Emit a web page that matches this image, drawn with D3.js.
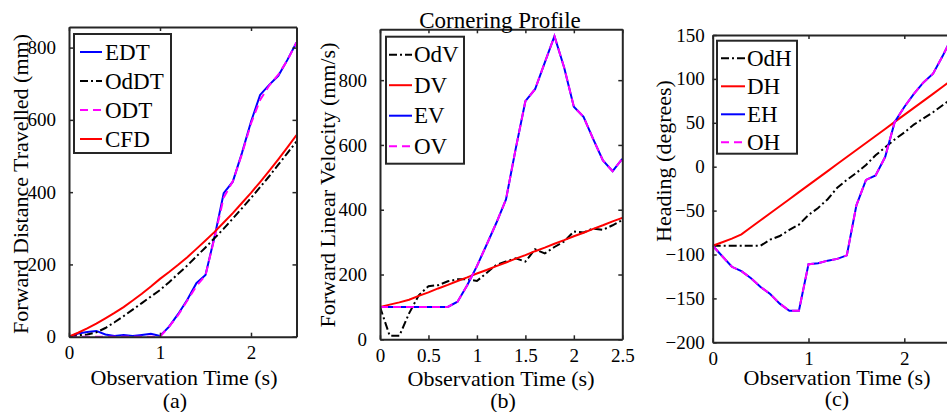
<!DOCTYPE html>
<html>
<head>
<meta charset="utf-8">
<script src="https://cdnjs.cloudflare.com/ajax/libs/d3/7.8.5/d3.min.js"></script>
<style>
  body { margin: 0; background: #fff; }
  svg { display: block; font-family: "Liberation Serif", "Times New Roman", serif; }
</style>
</head>
<body>
<div id="chart"></div>
<script>
// observation time (s), shared by every series
var time = [0, 0.1, 0.2, 0.3, 0.4, 0.5, 0.6, 0.7, 0.8, 0.9, 1.0, 1.1, 1.2,
            1.3, 1.4, 1.5, 1.6, 1.7, 1.8, 1.9, 2.0, 2.1, 2.2, 2.3, 2.4, 2.5];

// (a) forward distance travelled (mm)
var edt  = [0, 9, 13, 16, 6, 2, 5, 2, 5, 8, 2, 28, 63, 102, 148, 171, 277, 397, 429, 508, 595, 669, 697, 722, 766, 814];
var oddt = [0, 4, 6, 12, 24, 40, 57, 75, 93, 111, 129, 151, 174, 197, 222, 247, 273, 299, 327, 355, 384, 414, 444, 476, 508, 540];
var odt  = [0, 0, 0, 0, 0, 0, 0, 0, 0, 0, 0, 28, 60, 100, 140, 170, 275, 385, 430, 505, 590, 655, 695, 725, 765, 814];
var cfd  = [0, 11, 23, 36, 51, 66, 82, 100, 119, 139, 160, 179, 199, 220, 243, 266, 290, 316, 342, 370, 398, 428, 459, 491, 524, 558];

// (b) forward linear velocity (mm/s)
var odv = [100, 11, 11, 80, 136, 164, 167, 179, 185, 185, 180, 205, 230, 240, 250, 240, 278, 265, 285, 302, 333, 330, 342, 338, 352, 368];
var dv  = [100, 107, 114, 122, 134, 145, 157, 168, 180, 191, 203, 214, 226, 237, 249, 260, 272, 283, 295, 306, 318, 329, 341, 352, 364, 375];
var ev  = [100, 100, 100, 100, 100, 100, 100, 100, 116, 167, 226, 292, 359, 432, 588, 735, 772, 854, 936, 839, 718, 687, 618, 552, 519, 557];
var ov  = [100, 100, 100, 100, 100, 100, 100, 100, 116, 167, 226, 292, 359, 432, 588, 735, 772, 854, 936, 839, 718, 687, 618, 552, 519, 557];

// (c) heading (degrees)
var odh = [-90, -90, -90, -90, -90, -90, -83, -79, -72, -66, -55, -47, -37, -24, -15, -7, 2, 13, 22, 31, 39, 48, 55, 62, 70, 78];
var dh  = [-90, -86, -82, -77, -69, -61, -53, -45, -37, -29, -21, -13, -5, 3, 11, 19, 27, 35, 43, 51, 59, 67, 75, 83, 91, 99];
var eh  = [-90, -102, -114, -119, -127, -137, -145, -156, -164, -164, -111, -110, -107, -105, -101, -44, -15, -10, 11, 51, 68, 83, 96, 106, 126, 148];
var oh  = [-90, -102, -114, -119, -127, -137, -145, -156, -164, -164, -111, -110, -107, -105, -101, -44, -15, -10, 11, 51, 68, 83, 96, 106, 126, 148];

// tick labels
var xTicksA = [0, 1, 2];
var xTicksB = [0, 0.5, 1, 1.5, 2, 2.5];
var xTicksC = [0, 1, 2];
var yTicksA = [0, 200, 400, 600, 800];
var yTicksB = [0, 200, 400, 600, 800];
var yTicksC = [-200, -150, -100, -50, 0, 50, 100, 150];

var styles = {
    solidBlue:  {color: '#0000ff', dash: null},
    solidRed:   {color: '#ff0000', dash: null},
    dashDot:    {color: '#000000', dash: '8,3,2,3'},
    dashMag:    {color: '#ff00ff', dash: '8,5'}
};

var panels = [
    {
        box: {left: 69, right: 296.5, top: 27, bottom: 336.7},
        xDomain: [0, 2.5], yDomain: [0, 857],
        xTicks: xTicksA, yTicks: yTicksA,
        yLabel: 'Forward Distance Travelled (mm)', yLabelPos: [20, 184],
        xLabelPos: [184, 377], caption: '(a)', captionPos: [175, 400],
        series: [
            {name: 'EDT', values: edt, style: styles.solidBlue},
            {name: 'OdDT', values: oddt, style: styles.dashDot},
            {name: 'ODT', values: odt, style: styles.dashMag},
            {name: 'CFD', values: cfd, style: styles.solidRed}
        ],
        legend: {x: 74, y: 34, w: 97, h: 119, first: 18, step: 29, lineX: [80, 102], textX: 105}
    },
    {
        box: {left: 380, right: 622.3, top: 29.3, bottom: 339.3},
        xDomain: [0, 2.5], yDomain: [0, 957],
        xTicks: xTicksB, yTicks: yTicksB,
        yLabel: 'Forward Linear Velocity (mm/s)', yLabelPos: [327, 185],
        xLabelPos: [501, 378], caption: '(b)', captionPos: [503, 400],
        title: 'Cornering Profile', titlePos: [500, 20],
        series: [
            {name: 'OdV', values: odv, style: styles.dashDot},
            {name: 'DV', values: dv, style: styles.solidRed},
            {name: 'EV', values: ev, style: styles.solidBlue},
            {name: 'OV', values: ov, style: styles.dashMag}
        ],
        legend: {x: 386, y: 36.7, w: 78, h: 127, first: 18, step: 30.5, lineX: [389, 412], textX: 414}
    },
    {
        box: {left: 712.7, right: 952.2, top: 35, bottom: 342.3},
        xDomain: [0, 2.5], yDomain: [-200, 150],
        xTicks: xTicksC, yTicks: yTicksC,
        yLabel: 'Heading (degrees)', yLabelPos: [663, 161],
        xLabelPos: [837, 377], caption: '(c)', captionPos: [837, 398],
        series: [
            {name: 'OdH', values: odh, style: styles.dashDot},
            {name: 'DH', values: dh, style: styles.solidRed},
            {name: 'EH', values: eh, style: styles.solidBlue},
            {name: 'OH', values: oh, style: styles.dashMag}
        ],
        legend: {x: 717, y: 40.7, w: 80, h: 113, first: 17.6, step: 28, lineX: [721, 745], textX: 747}
    }
];

var axisColor = '#262626';
var tickLen = 4;

var svg = d3.select('#chart').append('svg')
            .attr('width', 947)
            .attr('height', 412);

var drawPanel = function drawPanel(p, idx) {
    var b = p.box;
    var x = d3.scaleLinear().domain(p.xDomain).range([b.left, b.right]);
    var y = d3.scaleLinear().domain(p.yDomain).range([b.bottom, b.top]);

    var clipId = 'clip' + idx;
    svg.append('clipPath').attr('id', clipId)
       .append('rect')
       .attr('x', b.left).attr('y', b.top)
       .attr('width', b.right - b.left).attr('height', b.bottom - b.top);

    var g = svg.append('g');

    // data lines
    var line = function(values) {
        return d3.line()
                 .x(function(d, i) { return x(time[i]); })
                 .y(function(d) { return y(d); })(values);
    };
    p.series.forEach(function(s) {
        g.append('path')
         .attr('clip-path', 'url(#' + clipId + ')')
         .attr('d', line(s.values))
         .attr('fill', 'none')
         .attr('stroke', s.style.color)
         .attr('stroke-width', 2)
         .attr('stroke-dasharray', s.style.dash);
    });

    // axes: ticks point inwards on all four sides (box on)
    var bottomAxis = d3.axisBottom(x).tickValues(p.xTicks).tickSizeInner(-tickLen).tickSizeOuter(0)
                       .tickPadding(9).tickFormat(d3.format('~g'));
    var topAxis = d3.axisTop(x).tickValues(p.xTicks).tickSizeInner(-tickLen).tickSizeOuter(0).tickFormat('');
    var leftAxis = d3.axisLeft(y).tickValues(p.yTicks).tickSizeInner(-tickLen).tickSizeOuter(0)
                     .tickPadding(idx == 2 ? 8 : 13).tickFormat(d3.format('~g'));
    var rightAxis = d3.axisRight(y).tickValues(p.yTicks).tickSizeInner(-tickLen).tickSizeOuter(0).tickFormat('');

    var axes = [
        g.append('g').attr('transform', 'translate(0,' + b.bottom + ')').call(bottomAxis),
        g.append('g').attr('transform', 'translate(0,' + b.top + ')').call(topAxis),
        g.append('g').attr('transform', 'translate(' + b.left + ',0)').call(leftAxis),
        g.append('g').attr('transform', 'translate(' + b.right + ',0)').call(rightAxis)
    ];
    axes.forEach(function(a) {
        a.select('.domain').attr('stroke', axisColor).attr('stroke-width', 2);
        a.selectAll('.tick line').attr('stroke', axisColor).attr('stroke-width', 1.5);
        a.selectAll('.tick text')
         .attr('fill', '#000')
         .style('font-size', '19px')
         .style('font-family', '"Liberation Serif", serif');
    });
    axes[0].selectAll('.tick text').attr('dy', '0.71em');

    // labels
    g.append('text')
     .attr('x', p.xLabelPos[0]).attr('y', p.xLabelPos[1])
     .attr('text-anchor', 'middle').attr('dominant-baseline', 'central')
     .style('font-size', '22px')
     .text('Observation Time (s)');

    g.append('text')
     .attr('transform', 'translate(' + p.yLabelPos[0] + ',' + p.yLabelPos[1] + ') rotate(-90)')
     .attr('text-anchor', 'middle').attr('dominant-baseline', 'central')
     .style('font-size', '22px')
     .text(p.yLabel);

    g.append('text')
     .attr('x', p.captionPos[0]).attr('y', p.captionPos[1])
     .attr('text-anchor', 'middle').attr('dominant-baseline', 'central')
     .style('font-size', '22px')
     .text(p.caption);

    if (p.title) {
        g.append('text')
         .attr('x', p.titlePos[0]).attr('y', p.titlePos[1])
         .attr('text-anchor', 'middle').attr('dominant-baseline', 'central')
         .style('font-size', '23px')
         .text(p.title);
    }

    // legend
    var L = p.legend;
    var lg = g.append('g');
    lg.append('rect')
      .attr('x', L.x).attr('y', L.y).attr('width', L.w).attr('height', L.h)
      .attr('fill', '#fff').attr('stroke', axisColor).attr('stroke-width', 2);
    p.series.forEach(function(s, i) {
        var ly = L.y + L.first + i * L.step;
        lg.append('line')
          .attr('x1', L.lineX[0]).attr('x2', L.lineX[1])
          .attr('y1', ly).attr('y2', ly)
          .attr('stroke', s.style.color).attr('stroke-width', 2)
          .attr('stroke-dasharray', s.style.dash);
        lg.append('text')
          .attr('x', L.textX).attr('y', ly)
          .attr('dominant-baseline', 'central')
          .style('font-size', '23px')
          .text(s.name);
    });
};

panels.forEach(drawPanel);
</script>
</body>
</html>
